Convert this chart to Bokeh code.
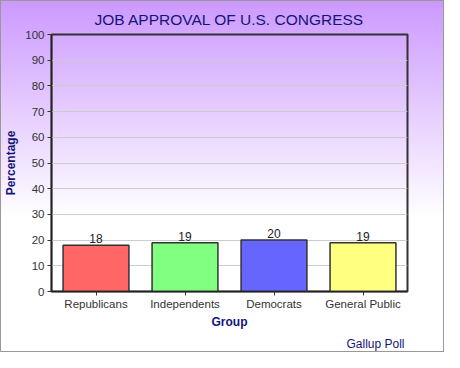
from bokeh.plotting import figure
from bokeh.models import ColumnDataSource, LabelSet, Title, SingleIntervalTicker, FactorRange
from bokeh.core.properties import value
from bokeh.embed import file_html
from bokeh.resources import INLINE

groups = ["Republicans", "Independents", "Democrats", "General Public"]
approval = [18, 19, 20, 19]
colors = ["#ff6666", "#80ff80", "#6666ff", "#ffff80"]
title_text = "JOB APPROVAL OF U.S. CONGRESS"
source_text = "Gallup Poll"

src = ColumnDataSource(dict(group=groups, value=approval, color=colors,
                            label=[str(v) for v in approval]))

FONT = "Liberation Sans"
NAVY = "#14147a"

p = figure(width=444, height=352, x_range=FactorRange(*groups), y_range=(0, 100),
           output_backend="svg", toolbar_location=None,
           min_border_left=42, min_border_right=38, min_border_top=29, min_border_bottom=55)

p.styles = {"background": "linear-gradient(to bottom, #cc99ff 0%, #ffffff 62%)",
            "border": "1px solid #999999"}
p.border_fill_color = None
p.background_fill_color = None
p.outline_line_color = "#333333"
p.outline_line_width = 2

p.title.text = title_text
p.title.align = "center"
p.title.text_font = FONT
p.title.text_font_size = "15.5px"
p.title.text_font_style = "normal"
p.title.text_color = NAVY
p.title.standoff = 14

p.vbar(x="group", top="value", width=0.74, source=src, fill_color="color",
       line_color="#333333", line_width=1.5)

p.add_layout(LabelSet(x="group", y="value", text="label", source=src,
                      text_align="center", text_baseline="bottom", y_offset=2,
                      text_font=value(FONT), text_font_size=value("12px"),
                      text_color="#222222"))

p.yaxis.ticker = SingleIntervalTicker(interval=10)
p.yaxis.minor_tick_line_color = None
p.xgrid.grid_line_color = None
p.ygrid.grid_line_color = "#cccccc"
p.ygrid.grid_line_width = 1

for ax in (p.xaxis, p.yaxis):
    ax.axis_line_color = "#222222"
    ax.axis_line_width = 1.5
    ax.major_tick_line_color = "#333333"
    ax.major_tick_in = 0
    ax.major_tick_out = 4
    ax.major_label_text_font = FONT
    ax.major_label_text_font_size = "11.5px"
    ax.major_label_text_color = "#333333"
    ax.axis_label_text_font = FONT
    ax.axis_label_text_font_size = "12px"
    ax.axis_label_text_font_style = "bold"
    ax.axis_label_text_color = NAVY

p.xaxis.axis_label = "Group"
p.yaxis.axis_label = "Percentage"
p.xaxis.major_label_standoff = 2
p.xaxis.axis_label_standoff = 2
p.yaxis.major_label_standoff = 3
p.yaxis.axis_label_standoff = 4
p.x_range.range_padding = 0

p.add_layout(Title(text=source_text, align="right", standoff=0, offset=0, padding=3,
                   text_font=FONT, text_font_size="12px",
                   text_font_style="normal", text_color=NAVY), "below")

open("out.html", "w").write(file_html(p, INLINE))
